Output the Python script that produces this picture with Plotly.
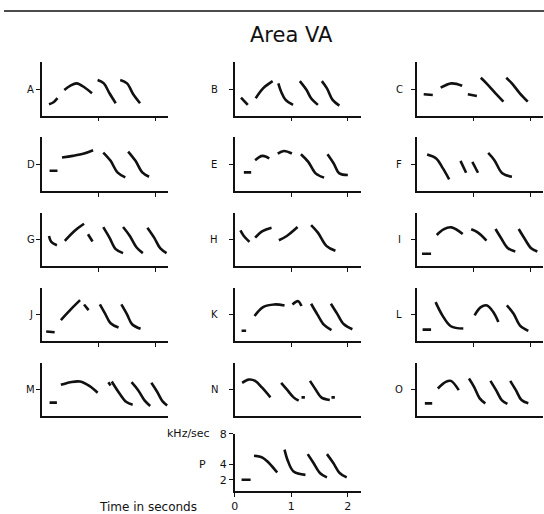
import plotly.graph_objects as go

TITLE = "Area VA"
Y_LABEL = "kHz/sec"
X_LABEL = "Time in seconds"
PANEL_LETTERS = ["A", "B", "C", "D", "E", "F", "G", "H", "I",
                 "J", "K", "L", "M", "N", "O", "P"]
X_TICKS = [1, 2]
P_X_TICKS = [0, 1, 2]
P_Y_TICKS = [2, 4, 8]
Y_TICK = [4]

# each panel: list of segments, each segment list of (time s, kHz)
A_SEGS = [
    [(0.12, 2.0), (0.20, 2.27), (0.27, 2.8)],
    [(0.39, 3.87), (0.50, 4.45), (0.61, 4.74), (0.75, 4.2), (0.88, 3.44)],
    [(0.98, 5.17), (1.09, 4.74), (1.19, 3.44), (1.30, 2.14)],
    [(1.38, 5.17), (1.50, 4.74), (1.61, 3.31), (1.73, 2.14)],
]
B_SEGS = [
    [(0.11, 2.87), (0.23, 1.92)],
    [(0.37, 2.79), (0.50, 4.09), (0.67, 5.04)],
    [(0.77, 4.74), (0.82, 3.65), (0.90, 2.57), (1.03, 1.92)],
    [(1.15, 5.04), (1.27, 3.87), (1.35, 2.79), (1.47, 1.92)],
    [(1.54, 5.04), (1.63, 4.09), (1.73, 2.57), (1.85, 1.83)],
]
C_SEGS = [
    [(0.12, 3.31), (0.28, 3.22)],
    [(0.42, 4.17), (0.61, 4.74), (0.80, 4.43)],
    [(0.90, 3.31), (1.06, 3.09)],
    [(1.13, 5.47), (1.23, 4.74), (1.39, 3.44), (1.53, 2.35)],
    [(1.58, 5.47), (1.68, 4.74), (1.82, 3.44), (1.96, 2.35)],
]
D_SEGS = [
    [(0.13, 3.13), (0.27, 3.13)],
    [(0.35, 4.87), (0.54, 5.08), (0.74, 5.39), (0.90, 5.82)],
    [(1.08, 5.52), (1.21, 4.43), (1.33, 2.92), (1.47, 2.27)],
    [(1.52, 5.65), (1.65, 4.43), (1.77, 2.92), (1.89, 2.35)],
]
E_SEGS = [
    [(0.16, 2.92), (0.29, 2.92)],
    [(0.36, 4.52), (0.49, 5.08), (0.61, 4.74)],
    [(0.76, 5.39), (0.87, 5.73), (1.01, 5.39)],
    [(1.17, 5.30), (1.30, 4.30), (1.43, 2.79), (1.58, 2.23)],
    [(1.64, 5.30), (1.75, 4.09), (1.85, 2.79), (2.00, 2.57)],
]
F_SEGS = [
    [(0.18, 5.26), (0.34, 4.74), (0.46, 3.44), (0.57, 2.0)],
    [(0.77, 4.43), (0.87, 2.87)],
    [(0.98, 4.30), (1.08, 2.87)],
    [(1.26, 5.47), (1.37, 4.52), (1.51, 2.79), (1.68, 2.35)],
]
G_SEGS = [
    [(0.12, 4.43), (0.16, 3.65), (0.26, 3.22)],
    [(0.40, 3.78), (0.57, 5.08), (0.74, 6.03)],
    [(0.81, 4.65), (0.89, 3.70)],
    [(1.08, 5.60), (1.19, 4.22), (1.30, 2.70), (1.43, 2.18)],
    [(1.43, 5.60), (1.55, 4.43), (1.67, 2.92), (1.78, 2.18)],
    [(1.86, 5.52), (1.98, 4.22), (2.09, 2.79), (2.20, 2.18)],
]
H_SEGS = [
    [(0.10, 5.17), (0.16, 4.43), (0.26, 3.65)],
    [(0.36, 4.22), (0.49, 5.08), (0.65, 5.52)],
    [(0.78, 3.87), (0.92, 4.43), (1.11, 5.60)],
    [(1.35, 5.86), (1.47, 4.87), (1.62, 3.13), (1.78, 2.48)],
]
I_SEGS = [
    [(0.09, 2.10), (0.25, 2.10)],
    [(0.35, 4.56), (0.47, 5.30), (0.61, 5.56), (0.81, 4.69)],
    [(0.96, 5.30), (1.08, 4.87), (1.23, 3.83)],
    [(1.39, 5.34), (1.49, 4.13), (1.61, 2.83), (1.74, 2.40)],
    [(1.80, 5.34), (1.90, 4.13), (2.02, 2.83), (2.13, 2.40)],
]
J_SEGS = [
    [(0.07, 1.75), (0.22, 1.66)],
    [(0.33, 3.26), (0.51, 4.69), (0.67, 5.86)],
    [(0.74, 5.30), (0.82, 4.56)],
    [(1.02, 5.30), (1.11, 4.13), (1.21, 2.83), (1.35, 2.27)],
    [(1.40, 5.30), (1.50, 4.00), (1.59, 2.70), (1.74, 2.10)],
]
K_SEGS = [
    [(0.12, 1.84), (0.20, 1.84)],
    [(0.35, 3.78), (0.50, 4.95), (0.70, 5.30), (0.88, 5.17)],
    [(1.02, 5.30), (1.12, 5.73), (1.18, 5.08)],
    [(1.35, 5.39), (1.46, 4.00), (1.58, 2.61), (1.71, 1.92)],
    [(1.70, 5.39), (1.81, 4.09), (1.93, 2.70), (2.08, 2.05)],
]
L_SEGS = [
    [(0.10, 2.0), (0.25, 2.0)],
    [(0.33, 5.60), (0.45, 3.87), (0.60, 2.44), (0.82, 2.14)],
    [(1.02, 3.87), (1.13, 4.95), (1.24, 5.17), (1.35, 4.30), (1.44, 3.0)],
    [(1.59, 5.17), (1.71, 4.09), (1.82, 2.57), (1.97, 1.84)],
]
M_SEGS = [
    [(0.13, 2.27), (0.26, 2.27)],
    [(0.33, 4.61), (0.50, 4.95), (0.67, 5.04), (0.84, 4.43), (0.98, 3.57)],
    [(1.17, 4.95), (1.21, 4.52)],
    [(1.23, 5.04), (1.37, 3.44), (1.49, 2.35), (1.60, 2.0)],
    [(1.58, 4.95), (1.70, 3.87), (1.81, 2.57), (1.91, 1.84)],
    [(1.93, 4.87), (2.03, 3.74), (2.13, 2.44), (2.21, 1.90)],
]
N_SEGS = [
    [(0.13, 4.87), (0.25, 5.30), (0.36, 5.13), (0.48, 4.26), (0.63, 2.96)],
    [(0.82, 4.87), (0.92, 4.00), (1.04, 2.96), (1.13, 2.53)],
    [(1.18, 2.96), (1.24, 2.96)],
    [(1.33, 5.13), (1.43, 4.00), (1.53, 2.96), (1.68, 2.61)],
    [(1.71, 2.96), (1.77, 2.96)],
]
O_SEGS = [
    [(0.14, 2.18), (0.27, 2.18)],
    [(0.37, 4.13), (0.51, 5.00), (0.60, 5.13), (0.74, 3.91)],
    [(0.92, 5.43), (1.01, 4.35), (1.11, 2.83), (1.21, 2.18)],
    [(1.30, 5.13), (1.40, 3.91), (1.50, 2.61), (1.60, 2.10)],
    [(1.65, 5.13), (1.75, 3.91), (1.85, 2.61), (1.97, 2.18)],
]
P_SEGS = [
    [(0.12, 2.0), (0.28, 2.0)],
    [(0.34, 5.14), (0.49, 4.91), (0.60, 4.23), (0.75, 2.95)],
    [(0.88, 5.95), (0.94, 4.45), (1.04, 3.09), (1.25, 2.64)],
    [(1.29, 5.36), (1.39, 4.23), (1.51, 2.86), (1.63, 2.32)],
    [(1.63, 5.36), (1.74, 4.23), (1.86, 2.86), (1.98, 2.32)],
]
PANEL_SEGS = [A_SEGS, B_SEGS, C_SEGS, D_SEGS, E_SEGS, F_SEGS, G_SEGS, H_SEGS,
              I_SEGS, J_SEGS, K_SEGS, L_SEGS, M_SEGS, N_SEGS, O_SEGS, P_SEGS]

# ---------- layout geometry (pixels) ----------
W, H = 544, 514
COL_LEFT = [38.5, 232.5, 416.0]
COL_WIDTH = 127.0
LETTER_X = [27, 212, 398]
ROW_TOP = [57, 133, 209, 285, 361]
ROW_H = 54
P_TOP, P_BOT = 433, 491

FONT = "DejaVu Sans"
INK = "#111111"

fig = go.Figure()
layout = dict(width=W, height=H, margin=dict(l=0, r=0, t=0, b=0),
              paper_bgcolor="white", plot_bgcolor="white", showlegend=False)
annotations = []

def px_x(x):
    return x / W

def px_y(y):
    return 1 - y / H

def label(text, x, y, size, xanchor="center"):
    return dict(text=text, x=px_x(x), y=px_y(y), xref="paper", yref="paper",
                xanchor=xanchor, yanchor="middle", showarrow=False,
                font=dict(family=FONT, size=size, color=INK))

for i, segs in enumerate(PANEL_SEGS):
    n = i + 1
    xa = "x" if n == 1 else f"x{n}"
    ya = "y" if n == 1 else f"y{n}"
    if i < 15:
        r, c = divmod(i, 3)
        top, bot = ROW_TOP[r], ROW_TOP[r] + ROW_H
        yrange = [0.5, 7.5]
    else:
        r, c = 5, 1
        top, bot = P_TOP, P_BOT
        yrange = [0.5, 8.0]
    left = COL_LEFT[c]
    for seg in segs:
        fig.add_trace(go.Scatter(
            x=[p[0] for p in seg], y=[p[1] for p in seg], xaxis=xa, yaxis=ya,
            mode="lines", line=dict(color=INK, width=2.6, shape="spline", smoothing=1.0),
            hoverinfo="skip"))
    xkey = "xaxis" if n == 1 else f"xaxis{n}"
    ykey = "yaxis" if n == 1 else f"yaxis{n}"
    if i == 15:
        xt, xshow = P_X_TICKS, True
        yt, yshow = P_Y_TICKS, True
    elif r == 4:
        xt, xshow = [], False
        yt, yshow = Y_TICK, False
    else:
        xt, xshow = X_TICKS, False
        yt, yshow = Y_TICK, False
    layout[xkey] = dict(domain=[px_x(left), px_x(left + COL_WIDTH)], range=[0, 2.23],
                        anchor=ya, showline=True, linecolor=INK, linewidth=1.5,
                        showgrid=False, zeroline=False, ticks="outside", ticklen=4,
                        tickwidth=1.2, tickcolor=INK, tickvals=xt, showticklabels=xshow,
                        tickfont=dict(family=FONT, size=11, color=INK), fixedrange=True)
    layout[ykey] = dict(domain=[px_y(bot), px_y(top)], range=yrange,
                        anchor=xa, showline=True, linecolor=INK, linewidth=1.5,
                        showgrid=False, zeroline=False, ticks="outside", ticklen=4,
                        tickwidth=1.2, tickcolor=INK, tickvals=yt, showticklabels=yshow,
                        tickfont=dict(family=FONT, size=11, color=INK), fixedrange=True)
    if i < 15:
        tick_y = bot - (4 - 0.5) / 7.0 * ROW_H
        annotations.append(label(PANEL_LETTERS[i], LETTER_X[c], tick_y, 10))
    else:
        tick_y = bot - (4 - 0.5) / 7.5 * (P_BOT - P_TOP)
        annotations.append(label(PANEL_LETTERS[i], 200, tick_y, 11))

annotations.append(label(TITLE, 290, 29, 21))
annotations.append(label(Y_LABEL, 210, 433, 11, xanchor="right"))
annotations.append(label(X_LABEL, 196, 507, 12, xanchor="right"))
layout["annotations"] = annotations
layout["shapes"] = [dict(type="line", xref="paper", yref="paper", x0=0, x1=1,
                         y0=px_y(5), y1=px_y(5), line=dict(color=INK, width=1.5))]
fig.update_layout(**layout)

POST = ("document.body.style.margin='0px';document.body.style.padding='0px';"
        "var d=document.getElementsByClassName('plotly-graph-div')[0];"
        "d.style.position='absolute';d.style.left='0px';d.style.top='0px';")
fig.write_html("out.html", config={"displayModeBar": False}, post_script=POST)
